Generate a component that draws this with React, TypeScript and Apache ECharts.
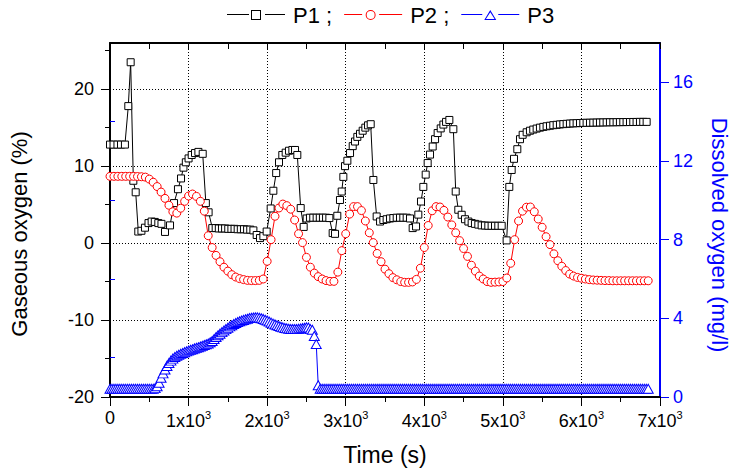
import React, { useEffect, useRef } from "react";
import * as echarts from "echarts";

const FONT = '"Liberation Sans", Arial, Helvetica, sans-serif';

// P1 : gaseous oxygen (%), left axis
const p1Time = [
  0, 45, 95, 140, 190, 233, 263, 297, 327, 360, 400, 445, 490, 530, 570, 615, 655, 700, 764, 815,
  865, 904, 935, 965, 1000, 1040, 1082, 1125, 1180, 1220, 1255, 1302, 1345, 1385, 1425, 1465, 1505,
  1545, 1585, 1625, 1665, 1705, 1745, 1785, 1825, 1867, 1909, 1952, 1994, 2045, 2079, 2115, 2151,
  2193, 2236, 2278, 2321, 2355, 2384, 2427, 2465, 2503, 2545, 2587, 2630, 2670, 2710, 2750, 2792,
  2834, 2864, 2893, 2927, 2949, 2970, 2991, 3021, 3055, 3089, 3118, 3148, 3182, 3216, 3250, 3284,
  3318, 3352, 3394, 3437, 3479, 3521, 3564, 3606, 3649, 3691, 3733, 3776, 3818, 3852, 3895, 3924,
  3958, 3988, 4018, 4043, 4073, 4107, 4137, 4170, 4209, 4243, 4277, 4319, 4370, 4400, 4433, 4476,
  4518, 4561, 4603, 4645, 4688, 4730, 4772, 4815, 4857, 4900, 4942, 4985, 5048, 5082, 5112, 5142,
  5184, 5218, 5252, 5303, 5345, 5387, 5430, 5472, 5515, 5557, 5600, 5642, 5685, 5727, 5770, 5812,
  5854, 5897, 5939, 5982, 6024, 6066, 6109, 6151, 6194, 6236, 6278, 6321, 6363, 6406, 6448, 6490,
  6533, 6575, 6618, 6660, 6702, 6745, 6787, 6830,
];
const p1Value = [
  12.8, 12.8, 12.8, 12.8, 12.8, 17.8, 23.5, 8.1, 6.6, 1.5, 1.6, 2.0, 2.6, 2.8, 2.75, 2.6, 2.5, 1.45, 2.3, 5.2,
  7.0, 8.4, 9.8, 10.5, 11.0, 11.45, 11.7, 11.85, 11.6, 5.2, 4.0, 1.95, 1.95, 1.9, 1.9, 1.9, 1.85,
  1.85, 1.85, 1.8, 1.8, 1.8, 1.75, 1.75, 1.65, 1.05, 0.65, 0.9, 1.5, 4.5, 6.8, 9.1, 10.5,
  11.45, 11.75, 12.0, 12.1, 12.1, 11.45, 4.55, 2.1, 3.2, 3.3, 3.3, 3.3, 3.3, 3.3, 3.3, 3.25,
  1.3, 1.2, 3.55, 5.6, 6.7, 8.6, 10.0, 10.7, 11.7, 12.6, 13.2, 13.8, 14.2, 14.6, 15.0, 15.3,
  15.45, 8.2, 3.46, 2.8, 3.0, 3.1, 3.2, 3.25, 3.3, 3.3, 3.3, 3.3, 3.2, 1.95, 2.16, 3.7,
  5.4, 7.3, 8.9, 10.4, 11.5, 12.55, 13.5, 14.3, 14.9, 15.4, 15.75, 16.0, 14.8, 6.7, 4.33, 3.68,
  3.1, 2.8, 2.6, 2.5, 2.4, 2.3, 2.28, 2.25, 2.25, 2.25, 2.25, 2.25, 0.35, 7.3, 9.5, 10.95,
  12.2, 13.5, 14.07, 14.4, 14.6, 14.75, 14.88, 15.0, 15.1, 15.18, 15.25, 15.32, 15.37, 15.42, 15.46, 15.5,
  15.53, 15.56, 15.58, 15.6, 15.62, 15.63, 15.64, 15.65, 15.66, 15.67, 15.68, 15.69, 15.7, 15.7, 15.71, 15.72,
  15.72, 15.73, 15.73, 15.74, 15.74, 15.75, 15.75, 15.75,
];

// P2 : dissolved oxygen (mg/l), right axis, sampled every 50 s
const P2_STEP = 50;
const p2Value = [
  11.22, 11.22, 11.22, 11.22, 11.22, 11.22, 11.22, 11.21, 11.2, 11.18, 11.08, 10.92, 10.7, 10.42, 10.1, 9.75,
  9.42, 9.35, 9.6, 9.95, 10.22, 10.32, 10.2, 9.95, 9.45, 8.2, 7.6, 7.2, 6.88, 6.6, 6.4, 6.22,
  6.1, 6.02, 5.97, 5.93, 5.92, 5.92, 5.93, 6.0, 6.9, 8.0, 9.19, 9.61, 9.81, 9.73, 9.55, 9.0,
  8.3, 7.85, 7.1, 6.6, 6.3, 6.12, 6.0, 5.92, 5.88, 5.88, 6.35, 7.44, 8.3, 9.3, 9.68, 9.68,
  9.48, 8.95, 8.35, 7.85, 7.3, 6.88, 6.5, 6.27, 6.07, 5.96, 5.87, 5.83, 5.83, 5.85, 5.98, 6.55,
  7.6, 8.72, 9.47, 9.68, 9.66, 9.49, 9.15, 8.75, 8.35, 7.95, 7.55, 7.15, 6.7, 6.4, 6.15, 6.0,
  5.87, 5.83, 5.84, 5.85, 5.87, 6.05, 6.8, 8.0, 8.95, 9.45, 9.65, 9.66, 9.42, 9.05, 8.63, 8.15,
  7.75, 7.28, 6.93, 6.65, 6.43, 6.25, 6.15, 6.08, 6.04, 6.0, 5.97, 5.95, 5.94, 5.93, 5.92, 5.92,
  5.91, 5.91, 5.91, 5.91, 5.91, 5.91, 5.91, 5.91, 5.91, 5.91,
];

// P3 : dissolved oxygen (mg/l), right axis, sampled every 25 s
const P3_STEP = 25;
const p3Value = [
  // 0 - 550 s
  0.42, 0.42, 0.42, 0.42, 0.42, 0.42, 0.42, 0.42, 0.42, 0.42, 0.42, 0.42,
  0.42, 0.42, 0.42, 0.42, 0.42, 0.42, 0.42, 0.42, 0.42, 0.42, 0.42,
  // 575 - 2650 s
  0.45, 0.55, 0.72, 0.98, 1.2, 1.4, 1.58, 1.73, 1.85, 1.95,
  2.03, 2.1, 2.15, 2.2, 2.24, 2.28, 2.32, 2.36, 2.4, 2.43,
  2.47, 2.5, 2.53, 2.57, 2.6, 2.64, 2.68, 2.72, 2.78, 2.85,
  2.95, 3.05, 3.14, 3.22, 3.3, 3.38, 3.45, 3.52, 3.59, 3.65,
  3.71, 3.76, 3.81, 3.85, 3.89, 3.92, 3.95, 3.98, 4.01, 4.03,
  4.04, 4.05, 4.05, 4.03, 4.0, 3.97, 3.93, 3.89, 3.84, 3.78,
  3.73, 3.69, 3.65, 3.61, 3.57, 3.54, 3.51, 3.49, 3.47, 3.46,
  3.46, 3.46, 3.46, 3.47, 3.48, 3.5, 3.52, 3.54, 3.53, 3.45,
  3.42, 3.1, 2.69, 0.6,
  // 2675 - 6850 s
  0.42, 0.42, 0.42, 0.42, 0.42, 0.42, 0.42, 0.42, 0.42, 0.42, 0.42, 0.42, 0.42, 0.42,
  0.42, 0.42, 0.42, 0.42, 0.42, 0.42, 0.42, 0.42, 0.42, 0.42, 0.42, 0.42, 0.42, 0.42,
  0.42, 0.42, 0.42, 0.42, 0.42, 0.42, 0.42, 0.42, 0.42, 0.42, 0.42, 0.42, 0.42, 0.42,
  0.42, 0.42, 0.42, 0.42, 0.42, 0.42, 0.42, 0.42, 0.42, 0.42, 0.42, 0.42, 0.42, 0.42,
  0.42, 0.42, 0.42, 0.42, 0.42, 0.42, 0.42, 0.42, 0.42, 0.42, 0.42, 0.42, 0.42, 0.42,
  0.42, 0.42, 0.42, 0.42, 0.42, 0.42, 0.42, 0.42, 0.42, 0.42, 0.42, 0.42, 0.42, 0.42,
  0.42, 0.42, 0.42, 0.42, 0.42, 0.42, 0.42, 0.42, 0.42, 0.42, 0.42, 0.42, 0.42, 0.42,
  0.42, 0.42, 0.42, 0.42, 0.42, 0.42, 0.42, 0.42, 0.42, 0.42, 0.42, 0.42, 0.42, 0.42,
  0.42, 0.42, 0.42, 0.42, 0.42, 0.42, 0.42, 0.42, 0.42, 0.42, 0.42, 0.42, 0.42, 0.42,
  0.42, 0.42, 0.42, 0.42, 0.42, 0.42, 0.42, 0.42, 0.42, 0.42, 0.42, 0.42, 0.42, 0.42,
  0.42, 0.42, 0.42, 0.42, 0.42, 0.42, 0.42, 0.42, 0.42, 0.42, 0.42, 0.42, 0.42, 0.42,
  0.42, 0.42, 0.42, 0.42, 0.42, 0.42, 0.42, 0.42, 0.42, 0.42, 0.42, 0.42, 0.42, 0.42,
];

const leftTicks = [-20, -10, 0, 10, 20];
const leftMinorTicks = [-15, -5, 5, 15, 25];
const rightTicks = [0, 4, 8, 12, 16];
const rightMinorTicks = [2, 6, 10, 14];
const seriesNames = ["P1", "P2", "P3"];

const BLACK = "#000000";
const RED = "#ff0000";
const BLUE = "#0000ff";

const iconSquare =
  "path://M0 4H22V5H0Z M24 0H34V10H24Z M25 1V9H33V1Z M38 4H58V5H38Z";
const iconCircle =
  "path://M0 4H18V5H0Z M21.5 5A5 5 0 1 1 31.5 5A5 5 0 1 1 21.5 5Z M22.5 5A4 4 0 1 0 30.5 5A4 4 0 1 0 22.5 5Z M35 4H58V5H35Z";
const iconTriangle =
  "path://M0 4H21V5H0Z M29 0L35 10H23Z M29 2.2L24.7 9H33.3Z M37 4H58V5H37Z";

export default function App() {
  const ref = useRef<HTMLDivElement>(null);

  useEffect(() => {
    if (!ref.current) return;
    const chart = echarts.init(ref.current, undefined, { renderer: "svg" });

    const p1Data = p1Time.map((t, i) => [t, p1Value[i]]);
    const p2Data = p2Value.map((v, i) => [i * P2_STEP, v]);
    const p3Data = p3Value.map((v, i) => [i * P3_STEP, v]);

    const tickLabel = { fontFamily: FONT, fontSize: 18 };

    const option: any = {
      animation: false,
      backgroundColor: "#ffffff",
      textStyle: { fontFamily: FONT },
      legend: {
        left: 227,
        top: 4,
        padding: 0,
        itemWidth: 58,
        itemHeight: 10,
        itemGap: 12,
        selectedMode: false,
        textStyle: { fontFamily: FONT, fontSize: 22, color: BLACK, padding: [0, 0, 0, 3] },
        formatter: (name: string) => (name === "P3" ? name : name + " ;"),
        data: [
          { name: seriesNames[0], icon: iconSquare, itemStyle: { color: BLACK, borderWidth: 0 } },
          { name: seriesNames[1], icon: iconCircle, itemStyle: { color: RED, borderWidth: 0 } },
          { name: seriesNames[2], icon: iconTriangle, itemStyle: { color: BLUE, borderWidth: 0 } },
        ],
      },
      grid: { left: 110, right: 73, top: 43, bottom: 74, containLabel: false, outerBoundsMode: "none" },
      xAxis: [
        {
          type: "value",
          position: "bottom",
          min: 0,
          max: 7000,
          interval: 1000,
          name: "Time (s)",
          nameLocation: "middle",
          nameGap: 46,
          nameTextStyle: { fontFamily: FONT, fontSize: 23, color: BLACK },
          axisLine: { show: true, onZero: false, lineStyle: { color: BLACK, width: 2 } },
          axisTick: { show: true, length: 9, lineStyle: { color: BLACK, width: 1 } },
          minorTick: { show: true, splitNumber: 2, length: 5, lineStyle: { color: BLACK, width: 1 } },
          splitLine: { show: true, lineStyle: { color: BLACK, width: 1, type: [1, 2] } },
          axisLabel: {
            ...tickLabel,
            color: BLACK,
            margin: 12,
            formatter: (v: number) => (v === 0 ? "0" : `${v / 1000}x10{sup|3}`),
            rich: { sup: { fontFamily: FONT, fontSize: 11, color: BLACK, padding: [0, 0, 13, 0] } },
          },
        },
        {
          type: "value",
          position: "top",
          min: 0,
          max: 7000,
          interval: 1000,
          axisLine: { show: true, onZero: false, lineStyle: { color: BLACK, width: 2 } },
          axisTick: { show: true, inside: true, length: 6, lineStyle: { color: BLACK, width: 1 } },
          minorTick: { show: true, splitNumber: 2, length: 6, lineStyle: { color: BLACK, width: 1 } },
          splitLine: { show: false },
          axisLabel: { show: false },
        },
      ],
      yAxis: [
        {
          type: "value",
          position: "left",
          min: -20,
          max: 26,
          interval: 10,
          name: "Gaseous oxygen (%)",
          nameLocation: "middle",
          nameRotate: 90,
          nameGap: 80,
          nameTextStyle: { fontFamily: FONT, fontSize: 22, color: BLACK, padding: [0, 28, 0, 0] },
          axisLine: { show: true, onZero: false, lineStyle: { color: BLACK, width: 2 } },
          axisTick: { show: true, length: 9, customValues: leftTicks, lineStyle: { color: BLACK, width: 1 } },
          splitLine: { show: true, lineStyle: { color: BLACK, width: 1, type: [1, 2] } },
          axisLabel: { ...tickLabel, color: BLACK, margin: 16, customValues: leftTicks },
        },
        {
          type: "value",
          position: "right",
          min: 0,
          max: 18,
          interval: 4,
          name: "Dissolved oxygen (mg/l)",
          nameLocation: "middle",
          nameRotate: -90,
          nameGap: 48,
          nameTextStyle: { fontFamily: FONT, fontSize: 22, color: BLUE, padding: [0, 0, 0, 30] },
          axisLine: { show: true, onZero: false, lineStyle: { color: BLUE, width: 2 } },
          axisTick: { show: true, length: 9, customValues: rightTicks, lineStyle: { color: BLUE, width: 1 } },
          splitLine: { show: false },
          axisLabel: { ...tickLabel, color: BLUE, margin: 13, customValues: rightTicks },
        },
        {
          type: "value",
          position: "left",
          min: -20,
          max: 26,
          axisLine: { show: false },
          axisTick: { show: true, length: 5, customValues: leftMinorTicks, lineStyle: { color: BLACK, width: 1 } },
          splitLine: { show: false },
          axisLabel: { show: false },
        },
        {
          type: "value",
          position: "right",
          min: 0,
          max: 18,
          axisLine: { show: false },
          axisTick: { show: true, length: 5, customValues: rightMinorTicks, lineStyle: { color: BLUE, width: 1 } },
          splitLine: { show: false },
          axisLabel: { show: false },
        },
      ],
      series: [
        {
          name: seriesNames[0],
          type: "line",
          xAxisIndex: 0,
          yAxisIndex: 0,
          data: p1Data,
          symbol: "rect",
          symbolSize: 7,
          showSymbol: true,
          lineStyle: { color: BLACK, width: 1 },
          itemStyle: { color: "#ffffff", borderColor: BLACK, borderWidth: 1 },
          emphasis: { disabled: true },
        },
        {
          name: seriesNames[1],
          type: "line",
          xAxisIndex: 0,
          yAxisIndex: 1,
          data: p2Data,
          symbol: "circle",
          symbolSize: 8,
          showSymbol: true,
          lineStyle: { color: RED, width: 1 },
          itemStyle: { color: "#ffffff", borderColor: RED, borderWidth: 1 },
          emphasis: { disabled: true },
        },
        {
          name: seriesNames[2],
          type: "line",
          xAxisIndex: 0,
          yAxisIndex: 1,
          data: p3Data,
          symbol: "triangle",
          symbolSize: [10, 9],
          showSymbol: true,
          lineStyle: { color: BLUE, width: 1 },
          itemStyle: { color: "#ffffff", borderColor: BLUE, borderWidth: 1 },
          emphasis: { disabled: true },
        },
      ],
    };

    chart.setOption(option);
    return () => chart.dispose();
  }, []);

  return (
    <div
      ref={ref}
      style={{ position: "fixed", left: 0, top: 0, width: 733, height: 471, background: "#ffffff" }}
    />
  );
}
